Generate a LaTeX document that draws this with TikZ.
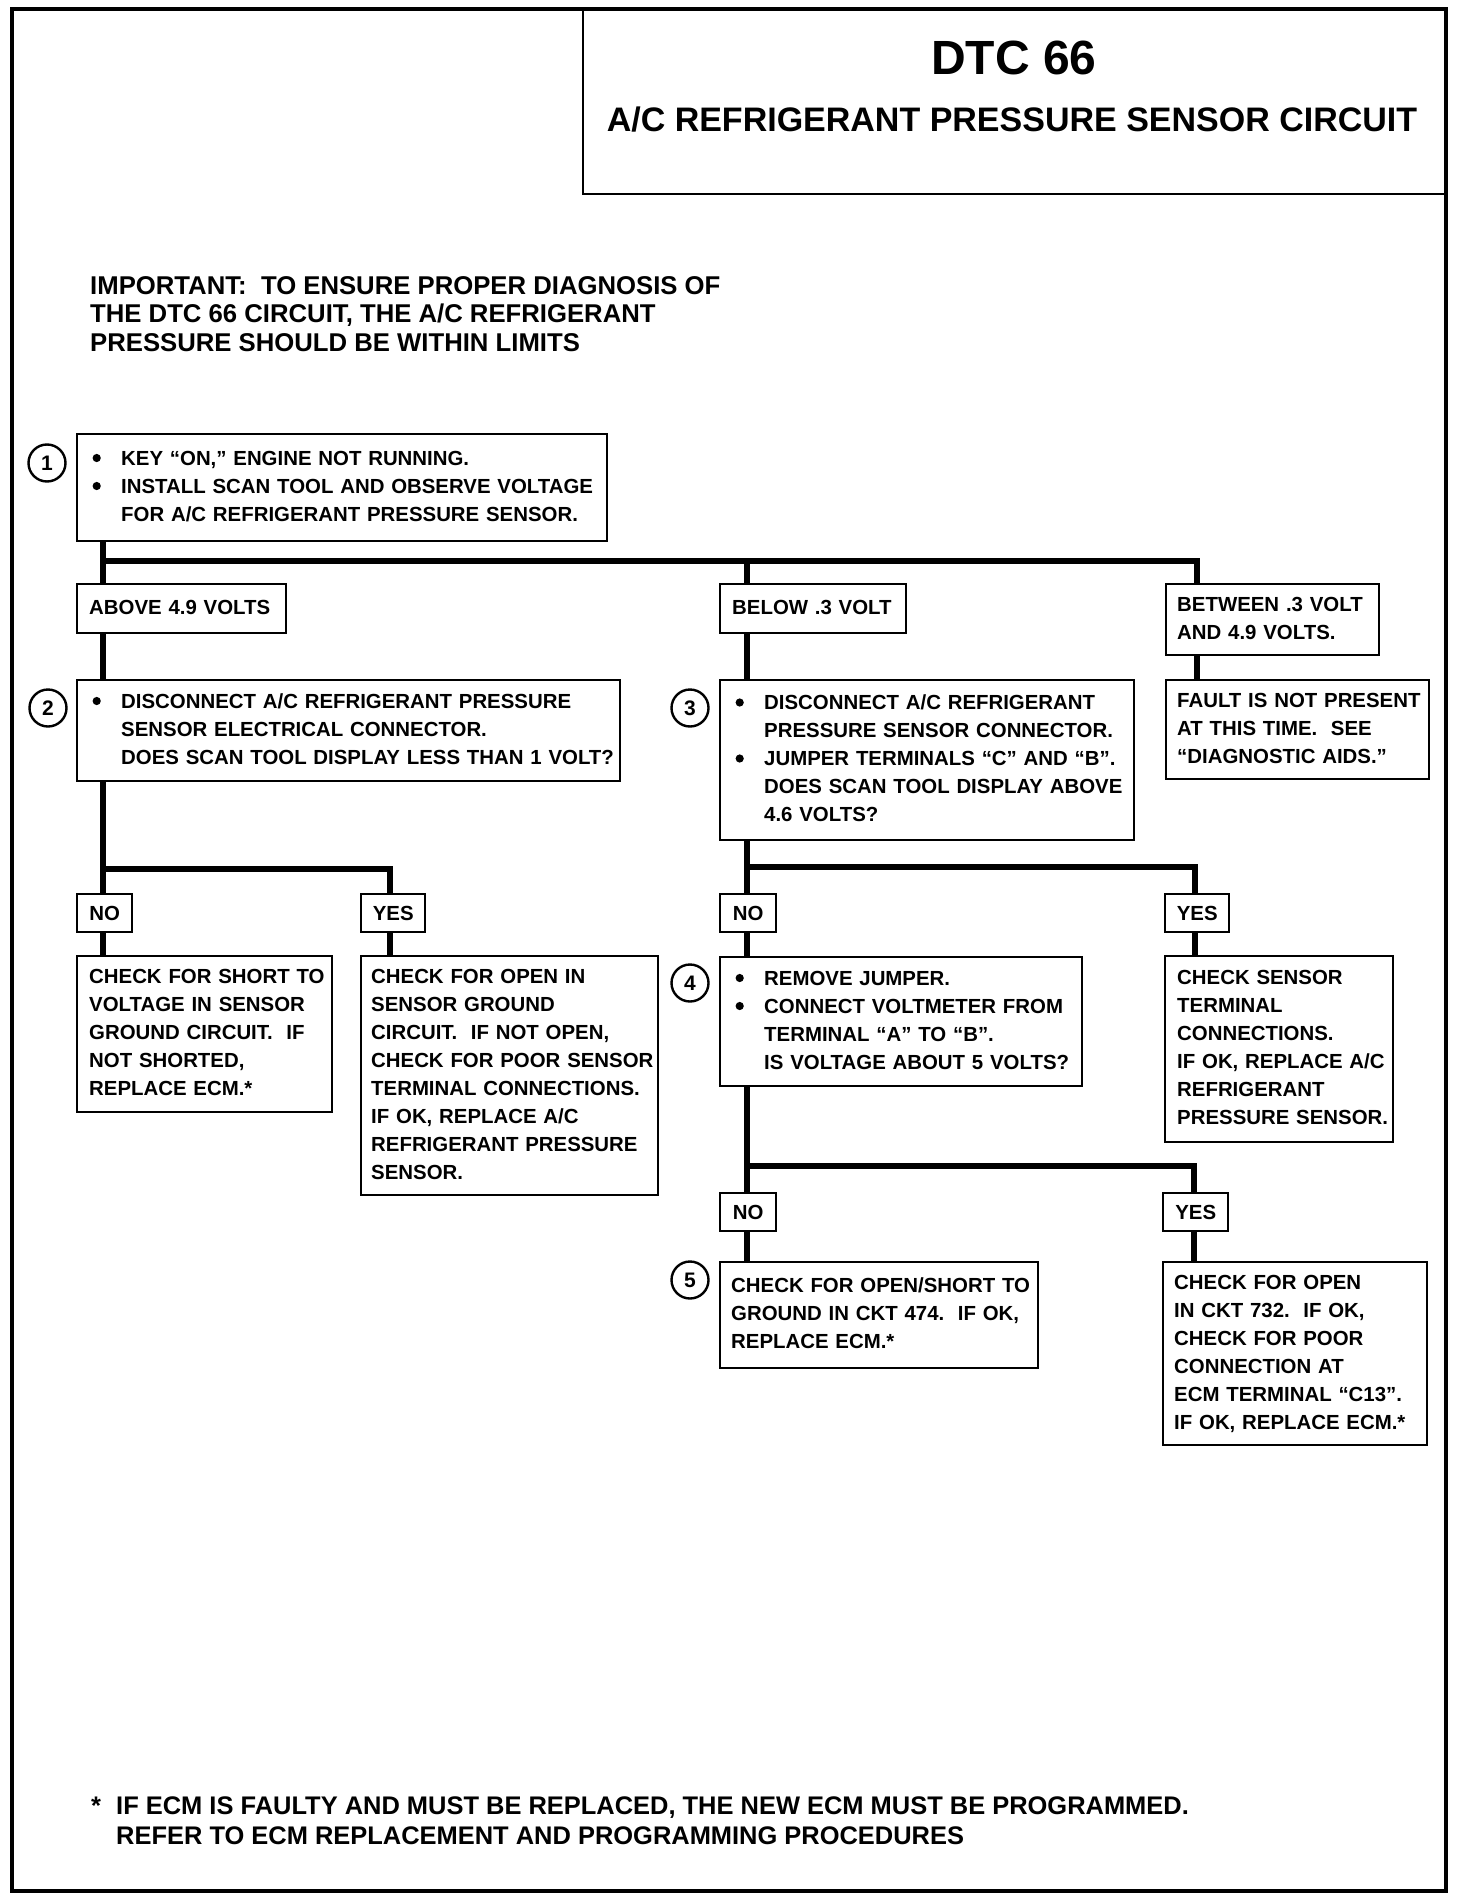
\documentclass[tikz,border=0pt]{standalone}
\usepackage{fontspec}
\setmainfont{Liberation Sans}
\newcommand\bl{\makebox[29pt][l]{\tikz[baseline=0pt,x=1pt,y=1pt]{\useasboundingbox (0,0) rectangle (9,12);\fill (4.5,7.3) circle (4.1);}}}
\newcommand\bi{\hspace*{29pt}}
\newcommand\lns[1]{\begin{tabular}{@{}l@{}}#1\end{tabular}}
\begin{document}
\begin{tikzpicture}[x=1pt,y=-1pt,
  txt/.style={font=\bfseries\fontsize{20.4}{28}\selectfont},
  box/.style={txt, draw, line width=2.4pt, anchor=north west, align=left, inner ysep=0pt},
  tag/.style={txt, draw, line width=2.4pt, anchor=north west, align=center, inner sep=0pt},
  num/.style={circle, draw, line width=2.4pt, minimum size=37pt, inner sep=0pt, font=\bfseries\fontsize{21}{21}\selectfont},
  conn/.style={line width=5.5pt},
  frame/.style={line width=4.2pt}]
\fill[white] (0,0) rectangle (1472,1902);
\useasboundingbox (0,0) rectangle (1472,1902);

% title
\node[draw, line width=2.4pt, anchor=north west, minimum width=864pt, minimum height=184pt, inner sep=0pt] (tbox) at (582,9) {};
\node[anchor=base, font=\bfseries\fontsize{48}{50}\selectfont] (t1) at (1014,75) {DTC 66};
\node[anchor=base, font=\bfseries\fontsize{34}{36}\selectfont] (t2) at (1012,132) {A/C REFRIGERANT PRESSURE SENSOR CIRCUIT};

\node[anchor=north west, inner sep=0pt, align=left, font=\bfseries\fontsize{25.7}{28.5}\selectfont] (imp) at (90,274)
  {\lns{IMPORTANT:\ \ TO ENSURE PROPER DIAGNOSIS OF\\THE DTC 66 CIRCUIT, THE A/C REFRIGERANT\\PRESSURE SHOULD BE WITHIN LIMITS}};

% step 1
\node[box, inner xsep=15pt, text width=500pt, minimum height=107pt] (b1) at (76,433)
  {\lns{\bl KEY “ON,” ENGINE NOT RUNNING.\\ \bl INSTALL SCAN TOOL AND OBSERVE VOLTAGE\\ \bi FOR A/C REFRIGERANT PRESSURE SENSOR.}};
\node[num] (c1) at (47,463) {1};

\node[box, inner xsep=12pt, text width=185pt, minimum height=49pt] (lab1) at (76,583) {\lns{ABOVE 4.9 VOLTS}};
\node[box, inner xsep=12pt, text width=162pt, minimum height=49pt] (lab2) at (719,583) {\lns{BELOW .3 VOLT}};
\node[box, inner xsep=11pt, text width=191pt, minimum height=71pt] (lab3) at (1165,583) {\lns{BETWEEN .3 VOLT\\AND 4.9 VOLTS.}};

% step 2
\node[box, inner xsep=15pt, text width=513pt, minimum height=101pt] (b2) at (76,679)
  {\lns{\bl DISCONNECT A/C REFRIGERANT PRESSURE\\ \bi SENSOR ELECTRICAL CONNECTOR.\\ \bi DOES SCAN TOOL DISPLAY LESS THAN 1 VOLT?}};
\node[num] (c2) at (48,708) {2};

% step 3
\node[box, inner xsep=15pt, text width=384pt, minimum height=160pt] (b3) at (719,679)
  {\lns{\bl DISCONNECT A/C REFRIGERANT\\ \bi PRESSURE SENSOR CONNECTOR.\\ \bl JUMPER TERMINALS “C” AND “B”.\\ \bi DOES SCAN TOOL DISPLAY ABOVE\\ \bi 4.6 VOLTS?}};
\node[num] (c3) at (690,708) {3};

\node[box, inner xsep=11pt, text width=241pt, minimum height=99pt] (fault) at (1165,679)
  {\lns{FAULT IS NOT PRESENT\\AT THIS TIME.\ \ SEE\\“DIAGNOSTIC AIDS.”}};

% step 2 answers
\node[tag, minimum width=55pt, minimum height=38pt] (no1) at (76,893) {NO};
\node[tag, minimum width=64pt, minimum height=38pt] (yes1) at (360,893) {YES};
\node[box, inner xsep=12pt, text width=231pt, minimum height=156pt] (r1) at (76,955)
  {\lns{CHECK FOR SHORT TO\\VOLTAGE IN SENSOR\\GROUND CIRCUIT.\ \ IF\\NOT SHORTED,\\REPLACE ECM.*}};
\node[box, inner xsep=10pt, text width=277pt, minimum height=239pt] (r2) at (360,955)
  {\lns{CHECK FOR OPEN IN\\SENSOR GROUND\\CIRCUIT.\ \ IF NOT OPEN,\\CHECK FOR POOR SENSOR\\TERMINAL CONNECTIONS.\\IF OK, REPLACE A/C\\REFRIGERANT PRESSURE\\SENSOR.}};

% step 3 answers
\node[tag, minimum width=56pt, minimum height=38pt] (no2) at (719,893) {NO};
\node[tag, minimum width=64pt, minimum height=38pt] (yes2) at (1164,893) {YES};
\node[box, inner xsep=15pt, text width=332pt, minimum height=129pt] (b4) at (719,956)
  {\lns{\bl REMOVE JUMPER.\\ \bl CONNECT VOLTMETER FROM\\ \bi TERMINAL “A” TO “B”.\\ \bi IS VOLTAGE ABOUT 5 VOLTS?}};
\node[num] (c4) at (690,983) {4};
\node[box, inner xsep=12pt, text width=204pt, minimum height=186pt] (r3) at (1164,955)
  {\lns{CHECK SENSOR\\TERMINAL\\CONNECTIONS.\\IF OK, REPLACE A/C\\REFRIGERANT\\PRESSURE SENSOR.}};

% step 4 answers
\node[tag, minimum width=56pt, minimum height=38pt] (no3) at (719,1192) {NO};
\node[tag, minimum width=65pt, minimum height=38pt] (yes3) at (1162,1192) {YES};
\node[box, inner xsep=11pt, text width=296pt, minimum height=106pt] (b5) at (719,1261)
  {\lns{CHECK FOR OPEN/SHORT TO\\GROUND IN CKT 474.\ \ IF OK,\\REPLACE ECM.*}};
\node[num] (c5) at (690,1280) {5};
\node[box, inner xsep=11pt, text width=242pt, minimum height=183pt] (r4) at (1162,1261)
  {\lns{CHECK FOR OPEN\\IN CKT 732.\ \ IF OK,\\CHECK FOR POOR\\CONNECTION AT\\ECM TERMINAL “C13”.\\IF OK, REPLACE ECM.*}};

% footer
\node[anchor=north west, inner sep=0pt, font=\bfseries\fontsize{25.45}{30}\selectfont] (foot) at (91,1793)
  {\begin{tabular}{@{}p{25pt}@{}l@{}}*&IF ECM IS FAULTY AND MUST BE REPLACED, THE NEW ECM MUST BE PROGRAMMED.\\&REFER TO ECM REPLACEMENT AND PROGRAMMING PROCEDURES\end{tabular}};

% connectors
\coordinate (jA) at (103,561);
\coordinate (jB) at (747,561);
\coordinate (jC) at (1197,561);
\draw[conn] (b1.south -| jA) -- (lab1.north -| jA);
\draw[conn, line join=miter] (jA) -- (jC) -- (lab3.north -| jC);
\draw[conn] (jB) -- (lab2.north -| jB);
\draw[conn] (lab1.south -| jA) -- (b2.north -| jA);
\draw[conn] (lab2.south -| jB) -- (b3.north -| jB);
\draw[conn] (lab3.south -| jC) -- (fault.north -| jC);

\coordinate (kA) at (103,869);
\coordinate (kY) at (390,869);
\draw[conn] (b2.south -| jA) -- (no1.north -| jA);
\draw[conn] (no1.south -| jA) -- (r1.north -| jA);
\draw[conn, line join=miter] (kA) -- (kY) -- (yes1.north -| kY);
\draw[conn] (yes1.south -| kY) -- (r2.north -| kY);

\coordinate (kB) at (747,867);
\coordinate (kC) at (1195,867);
\draw[conn] (b3.south -| jB) -- (no2.north -| jB);
\draw[conn] (no2.south -| jB) -- (b4.north -| jB);
\draw[conn, line join=miter] (kB) -- (kC) -- (yes2.north -| kC);
\draw[conn] (yes2.south -| kC) -- (r3.north -| kC);

\coordinate (mB) at (747,1166);
\coordinate (mC) at (1194,1166);
\draw[conn] (b4.south -| jB) -- (no3.north -| jB);
\draw[conn] (no3.south -| jB) -- (b5.north -| jB);
\draw[conn, line join=miter] (mB) -- (mC) -- (yes3.north -| mC);
\draw[conn] (yes3.south -| mC) -- (r4.north -| mC);

% frame
\draw[frame] (12,9) rectangle (1446,1891);
\end{tikzpicture}
\end{document}
